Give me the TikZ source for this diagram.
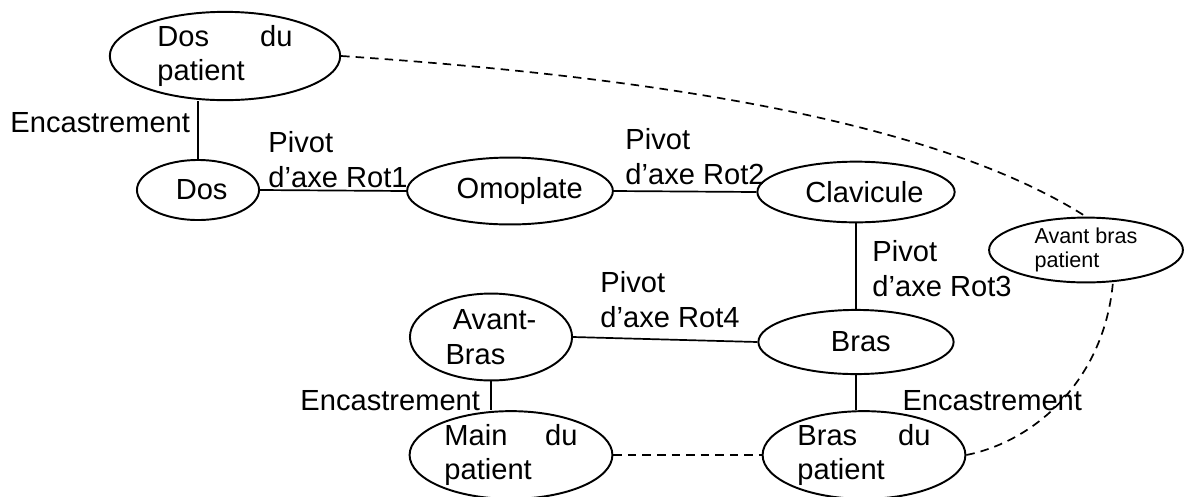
\documentclass[tikz,border=0pt]{standalone}
\usepackage{fontspec}
\setmainfont{Liberation Sans}
\usetikzlibrary{shapes.geometric, positioning}

\begin{document}
\begin{tikzpicture}[
  x=0.0145cm, y=-0.0145cm,
  part/.style={ellipse, draw=black, line width=0.8pt, inner sep=0pt, font=\fontsize{12}{14.4}\selectfont},
  lbl/.style={inner sep=0pt, font=\fontsize{12}{14.4}\selectfont, align=left},
  link/.style={line width=0.7pt},
  patlink/.style={line width=0.7pt, dash pattern=on 3.5pt off 2.5pt}
]
\useasboundingbox (0,0) rectangle (1185,496);

% solides
\node[part, minimum width=3.34cm, minimum height=1.28cm, text width=1.96cm, align=left] (dospat) at (225,56) {Dos\hfill du\\patient};
\node[part, minimum width=1.77cm, minimum height=0.87cm] (dos) at (198,190) {\hspace*{3pt}Dos};
\node[part, minimum width=2.83cm, minimum height=0.97cm] (omo) at (510,191) {\hspace*{8pt}Omoplate};
\node[part, minimum width=2.86cm, minimum height=0.88cm] (clav) at (856,192) {\hspace*{7pt}Clavicule};
\node[part, minimum width=2.81cm, minimum height=0.94cm, align=left, font=\fontsize{8.9}{9.8}\selectfont] (avpat) at (1086,250) {Avant bras\\patient};
\node[part, minimum width=2.83cm, minimum height=0.93cm] (bras) at (856,342) {\hspace*{4pt}Bras};
\node[part, minimum width=2.35cm, minimum height=1.26cm, align=left] (avbras) at (491,337) {\hspace*{3pt}Avant-\\Bras};
\node[part, minimum width=2.94cm, minimum height=1.22cm, text width=1.93cm, align=left] (mainpat) at (511,455) {Main\hfill du\\patient};
\node[part, minimum width=2.94cm, minimum height=1.22cm, text width=1.93cm, align=left] (braspat) at (864,455) {Bras\hfill du\\patient};

% liaisons
\draw[link] (dos.north) -- (dos.north |- dospat.south);
\draw[link] (dos.east) -- (omo.west);
\draw[link] (omo.east) -- (clav.west);
\draw[link] (clav.south) -- (bras.north);
\draw[link] (avbras.east) -- (bras.west);
\draw[link] (avbras.south) -- (avbras.south |- mainpat.north);
\draw[link] (bras.south) -- (bras.south |- braspat.north);

% liens patient
\draw[patlink] (dospat.east) .. controls (700,80) and (950,130) .. (avpat.north);
\draw[patlink] (mainpat.east) -- (braspat.west);
\draw[patlink] (braspat.east) .. controls (1040,440) and (1105,375) .. (avpat.-50);

% noms des liaisons
\node[lbl, anchor=base west] (enc1) at (10,132) {Encastrement};
\node[lbl, anchor=north west] (rot1) at (268,131) {Pivot\\d'axe Rot1};
\node[lbl, anchor=north west] (rot2) at (625,128) {Pivot\\d'axe Rot2};
\node[lbl, anchor=north west] (rot3) at (872,240) {Pivot\\d'axe Rot3};
\node[lbl, anchor=north west] (rot4) at (600,271) {Pivot\\d'axe Rot4};
\node[lbl, anchor=base west] (enc2) at (300,410) {Encastrement};
\node[lbl, anchor=base west] (enc3) at (902,410) {Encastrement};
\end{tikzpicture}
\end{document}
